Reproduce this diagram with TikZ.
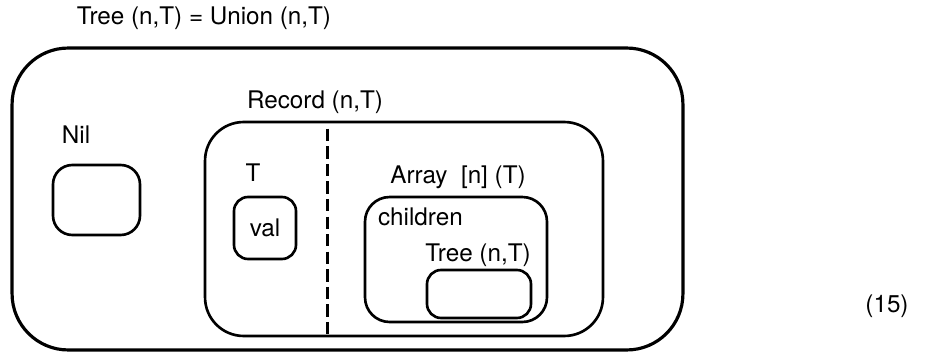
\documentclass[tikz,border=0pt]{standalone}
\usepackage{fontspec}
\setmainfont{TeX Gyre Heros}
\usetikzlibrary{calc,positioning}
\tikzset{
	box/.style={draw, line width=1.5pt, rounded corners=#1, inner sep=0pt},
	box/.default=10pt,
	lbl/.style={font=\fontsize{13.8}{16}\selectfont, inner sep=1pt},
}

\begin{document}
\begin{tikzpicture}[x=0.02cm, y=-0.02cm]
\useasboundingbox (0,0) rectangle (943,358);
% the boxes
\node[box=32pt, line width=1.8pt, minimum width=13.42cm, minimum height=6.04cm] at (347.5,199) (union) {};
\node[box=22pt, minimum width=7.96cm, minimum height=4.28cm] at (404,229) (record) {};
\node[box=11pt, minimum width=1.74cm, minimum height=1.4cm] at (96.5,200) (nil) {};
\node[box=8pt, minimum width=1.24cm, minimum height=1.24cm] at (265,228) (val) {};
\node[box=14pt, minimum width=3.64cm, minimum height=2.5cm] at (456,259.5) (children) {};
\node[box=8pt, minimum width=2.08cm, minimum height=0.96cm] at (479,294) (sub) {};

% the split in the record
\coordinate (cut1) at ($(record.north west)!.309!(record.north east) + (0,8)$);
\coordinate (cut2) at ($(record.south west)!.309!(record.south east)$);
\draw[line width=1.3pt, dash pattern=on 7pt off 3pt] (cut1) -- (cut2);

%the names
\node[lbl] at (204,18) (title) {Tree (n,T) = Union (n,T)};
\node[lbl] at (315,102) (recname) {Record (n,T)};
\node[lbl] at (76,135) (nilname) {Nil};
\node[lbl] at (253,173) (tname) {T};
\node[lbl] at (265,228) (valname) {val};
\node[lbl] at (458,177) (arrname) {Array\ \ [n] (T)};
\node[lbl, anchor=west] at (376,217) (chname) {children};
\node[lbl] at (478,255) (treename) {Tree (n,T)};
\node[lbl] at (887,306) (eqno) {(15)};
\end{tikzpicture}
\end{document}
